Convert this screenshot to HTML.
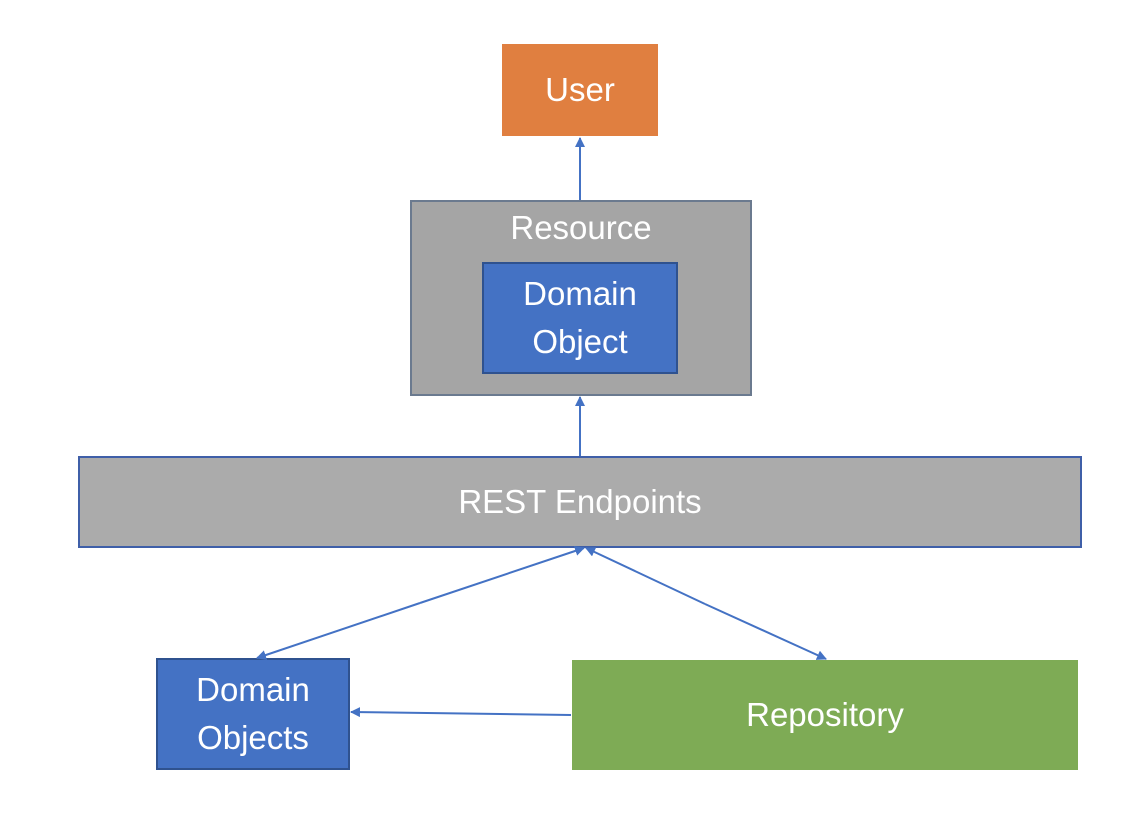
<!DOCTYPE html>
<html><head><meta charset="utf-8"><style>
body{margin:0;width:1132px;height:820px;background:#fff;overflow:hidden;font-family:"Liberation Sans",sans-serif;}
.b{position:absolute;box-sizing:border-box;color:#fff;display:flex;align-items:center;justify-content:center;text-align:center;font-size:33px;line-height:48px;}
</style></head><body>
<div class="b" style="left:502px;top:44px;width:156px;height:92px;background:#E07F40;">User</div>
<div class="b" style="left:410px;top:200px;width:342px;height:196px;background:#A5A5A5;border:2px solid #6B7A8F;align-items:flex-start;padding-top:2px;">Resource</div>
<div class="b" style="left:482px;top:262px;width:196px;height:112px;background:#4472C4;border:2px solid #2F528F;">Domain<br>Object</div>
<div class="b" style="left:78px;top:456px;width:1004px;height:92px;background:#ABABAB;border:2px solid #3F5FA8;">REST Endpoints</div>
<div class="b" style="left:156px;top:658px;width:194px;height:112px;background:#4472C4;border:2px solid #2F528F;">Domain<br>Objects</div>
<div class="b" style="left:572px;top:660px;width:506px;height:110px;background:#7EAB55;">Repository</div>
<svg width="1132" height="820" style="position:absolute;left:0;top:0">
<defs><marker id="a" markerWidth="10" markerHeight="10" refX="9" refY="5" orient="auto" markerUnits="userSpaceOnUse"><path d="M0,0 L10,5 L0,10 z" fill="#4472C4"/></marker></defs>
<g stroke="#4472C4" stroke-width="2" fill="none">
<line x1="580" y1="200" x2="580" y2="138" marker-end="url(#a)"/>
<line x1="580" y1="456" x2="580" y2="397" marker-end="url(#a)"/>
<line x1="420" y1="603" x2="257" y2="658" marker-end="url(#a)"/>
<line x1="420" y1="603" x2="584" y2="548" marker-end="url(#a)"/>
<line x1="705" y1="604" x2="826" y2="659" marker-end="url(#a)"/>
<line x1="705" y1="604" x2="586" y2="548" marker-end="url(#a)"/>
<line x1="571" y1="715" x2="351" y2="712" marker-end="url(#a)"/>
</g></svg>
</body></html>
